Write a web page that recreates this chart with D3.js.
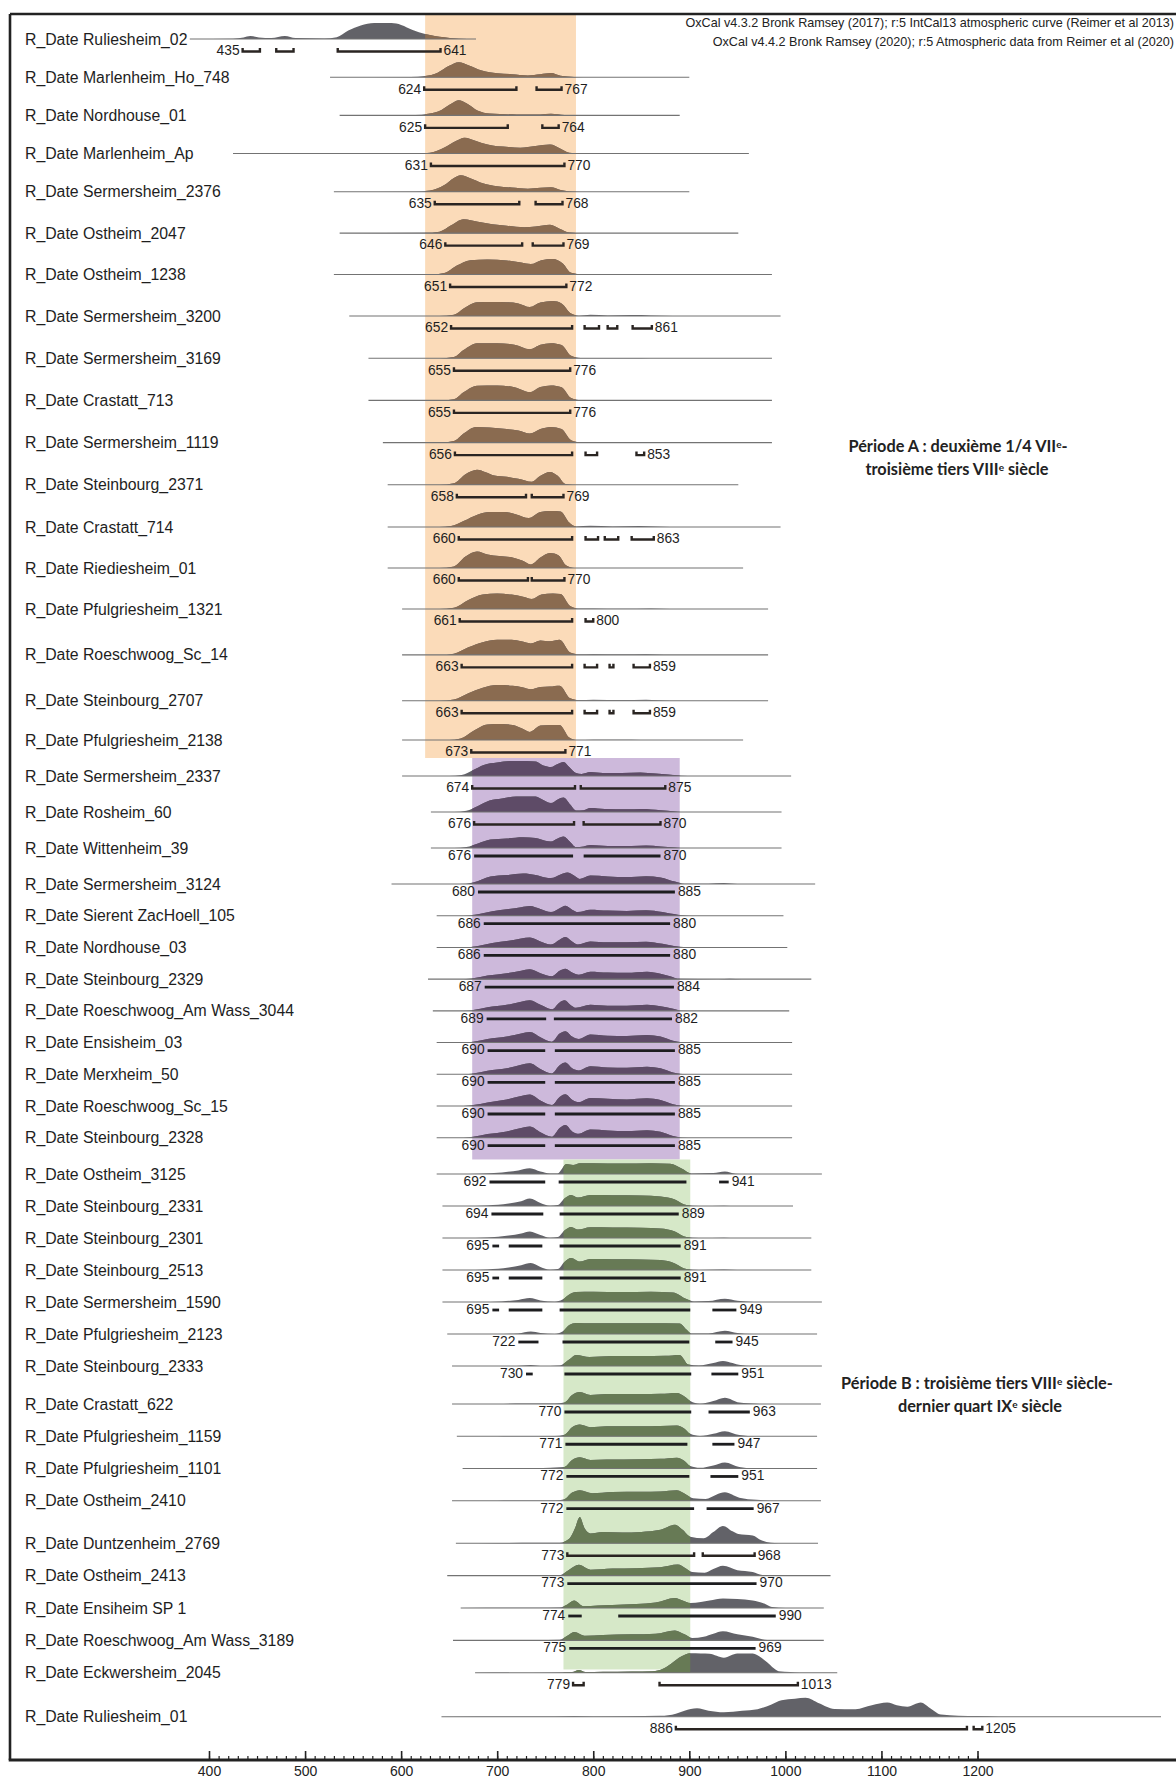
<!DOCTYPE html>
<html><head><meta charset="utf-8">
<script src="https://cdn.jsdelivr.net/npm/d3@7"></script>
<style>body{margin:0;background:#fff}</style>
</head><body>
<svg id="c" width="1176" height="1779"></svg>
<script>
// ---------------- DATA ----------------
const names = ["R_Date Ruliesheim_02","R_Date Marlenheim_Ho_748","R_Date Nordhouse_01","R_Date Marlenheim_Ap","R_Date Sermersheim_2376","R_Date Ostheim_2047","R_Date Ostheim_1238","R_Date Sermersheim_3200","R_Date Sermersheim_3169","R_Date Crastatt_713","R_Date Sermersheim_1119","R_Date Steinbourg_2371","R_Date Crastatt_714","R_Date Riediesheim_01","R_Date Pfulgriesheim_1321","R_Date Roeschwoog_Sc_14","R_Date Steinbourg_2707","R_Date Pfulgriesheim_2138","R_Date Sermersheim_2337","R_Date Rosheim_60","R_Date Wittenheim_39","R_Date Sermersheim_3124","R_Date Sierent ZacHoell_105","R_Date Nordhouse_03","R_Date Steinbourg_2329","R_Date Roeschwoog_Am Wass_3044","R_Date Ensisheim_03","R_Date Merxheim_50","R_Date Roeschwoog_Sc_15","R_Date Steinbourg_2328","R_Date Ostheim_3125","R_Date Steinbourg_2331","R_Date Steinbourg_2301","R_Date Steinbourg_2513","R_Date Sermersheim_1590","R_Date Pfulgriesheim_2123","R_Date Steinbourg_2333","R_Date Crastatt_622","R_Date Pfulgriesheim_1159","R_Date Pfulgriesheim_1101","R_Date Ostheim_2410","R_Date Duntzenheim_2769","R_Date Ostheim_2413","R_Date Ensiheim SP 1","R_Date Roeschwoog_Am Wass_3189","R_Date Eckwersheim_2045","R_Date Ruliesheim_01"];

// OxCal version used for each date (4.3 = v4.3.2 / IntCal13, 4.4 = v4.4.2 / IntCal20)
const oxcalVersion = ["4.3","4.3","4.3","4.3","4.3","4.3","4.3","4.3","4.3","4.3","4.3","4.3","4.3","4.3","4.3","4.3","4.3","4.3","4.3","4.3","4.4","4.4","4.4","4.4","4.4","4.4","4.4","4.4","4.4","4.4","4.4","4.4","4.4","4.4","4.4","4.4","4.4","4.4","4.4","4.4","4.4","4.3","4.4","4.4","4.4","4.3","4.3"];

// period band overlapping each row
const rowBand = ["A","A","A","A","A","A","A","A","A","A","A","A","A","A","A","A","A","A","B1","B1","B1","B1","B1","B1","B1","B1","B1","B1","B1","B1","B2","B2","B2","B2","B2","B2","B2","B2","B2","B2","B2","B2","B2","B2","B2","B2",null];

// period bands (calendar years AD)
const bandYears = {A:[625,782], B1:[674,890], B2:[769,901]};

// posterior densities [year, relative probability]
const densities = [
[[380,0],[425,0.01],[436,0.05],[443,0.1],[452,0.05],[465,0.03],[479,0.1],[490,0.03],[520,0.02],[533,0.06],[545,0.28],[558,0.45],[572,0.53],[590,0.53],[600,0.47],[612,0.3],[625,0.17],[645,0.06],[660,0.01],[678,0]],
[[526,0],[610,0.01],[625,0.04],[638,0.15],[650,0.38],[660,0.5],[670,0.4],[684,0.22],[700,0.13],[715,0.1],[732,0.06],[745,0.1],[756,0.14],[766,0.05],[780,0.01],[800,0],[900,0]],
[[536,0],[615,0.01],[628,0.05],[642,0.18],[653,0.4],[660,0.5],[668,0.4],[680,0.15],[692,0.06],[720,0.03],[745,0.03],[756,0.05],[770,0.01],[790,0],[890,0]],
[[425,0],[610,0],[630,0.03],[645,0.2],[657,0.42],[666,0.53],[678,0.42],[690,0.3],[700,0.24],[712,0.22],[724,0.19],[740,0.25],[755,0.3],[765,0.18],[775,0.03],[790,0],[962,0]],
[[530,0],[615,0.01],[630,0.04],[645,0.22],[655,0.46],[662,0.55],[672,0.45],[685,0.28],[700,0.18],[715,0.14],[732,0.1],[745,0.13],[756,0.15],[766,0.06],[778,0.01],[795,0],[900,0]],
[[536,0],[625,0.01],[640,0.05],[652,0.26],[665,0.46],[680,0.38],[695,0.3],[710,0.25],[728,0.2],[740,0.22],[755,0.28],[765,0.15],[775,0.02],[790,0],[951,0]],
[[530,0],[630,0],[645,0.05],[658,0.3],[672,0.48],[690,0.5],[710,0.47],[725,0.4],[735,0.35],[746,0.48],[758,0.52],[768,0.38],[777,0.06],[790,0.01],[830,0.02],[870,0.01],[900,0],[986,0]],
[[546,0],[640,0],[655,0.04],[665,0.25],[679,0.46],[695,0.47],[710,0.46],[722,0.42],[734,0.3],[745,0.45],[758,0.5],[767,0.42],[777,0.08],[785,0.01],[797,0.04],[815,0.02],[840,0.03],[860,0.02],[883,0],[995,0]],
[[566,0],[640,0],[655,0.04],[665,0.27],[679,0.5],[700,0.5],[718,0.45],[734,0.3],[745,0.45],[756,0.5],[767,0.44],[777,0.08],[787,0.01],[820,0.01],[850,0.01],[870,0],[986,0]],
[[566,0],[640,0],[655,0.04],[665,0.27],[679,0.49],[700,0.5],[718,0.44],[734,0.28],[745,0.45],[756,0.5],[767,0.44],[777,0.08],[787,0.01],[820,0.01],[850,0.01],[870,0],[986,0]],
[[581,0],[640,0],[655,0.05],[665,0.3],[678,0.52],[692,0.5],[710,0.45],[722,0.4],[734,0.3],[745,0.45],[756,0.52],[767,0.45],[777,0.08],[787,0.01],[820,0.01],[860,0.01],[880,0],[986,0]],
[[586,0],[640,0],[655,0.05],[667,0.35],[679,0.5],[688,0.42],[697,0.31],[710,0.27],[722,0.2],[736,0.1],[745,0.3],[755,0.43],[763,0.3],[771,0.03],[785,0],[951,0]],
[[586,0],[640,0],[652,0.03],[665,0.2],[680,0.42],[692,0.5],[708,0.5],[720,0.42],[733,0.3],[745,0.5],[755,0.53],[766,0.52],[775,0.15],[782,0.02],[797,0.04],[820,0.02],[848,0.03],[880,0],[995,0]],
[[586,0],[640,0],[655,0.05],[667,0.38],[679,0.55],[690,0.45],[702,0.4],[715,0.36],[726,0.25],[735,0.12],[745,0.35],[755,0.5],[764,0.42],[772,0.08],[780,0],[956,0]],
[[601,0],[640,0],[655,0.04],[670,0.3],[685,0.48],[700,0.52],[715,0.48],[728,0.4],[736,0.33],[746,0.48],[758,0.52],[766,0.5],[776,0.1],[784,0.02],[800,0.02],[830,0.01],[860,0.02],[880,0],[982,0]],
[[601,0],[640,0],[655,0.04],[670,0.25],[685,0.42],[700,0.5],[715,0.5],[725,0.45],[735,0.38],[745,0.48],[755,0.45],[765,0.5],[776,0.08],[785,0.02],[800,0.03],[830,0.02],[855,0.03],[880,0],[982,0]],
[[601,0],[640,0],[655,0.04],[670,0.25],[685,0.43],[700,0.52],[716,0.5],[726,0.45],[735,0.38],[745,0.46],[755,0.47],[765,0.5],[776,0.08],[785,0.02],[800,0.03],[830,0.02],[855,0.03],[880,0],[982,0]],
[[601,0],[650,0],[662,0.05],[675,0.3],[690,0.52],[705,0.53],[716,0.5],[726,0.38],[734,0.27],[745,0.48],[756,0.5],[765,0.5],[775,0.08],[782,0],[800,0.01],[840,0.01],[860,0],[956,0]],
[[601,0],[650,0],[663,0.03],[675,0.2],[686,0.37],[700,0.45],[715,0.5],[730,0.5],[740,0.48],[748,0.35],[756,0.3],[763,0.4],[769,0.47],[775,0.3],[782,0.1],[788,0.07],[797,0.13],[810,0.1],[830,0.1],[849,0.12],[865,0.08],[878,0.05],[892,0.01],[905,0],[1006,0]],
[[631,0],[655,0],[668,0.04],[680,0.2],[692,0.38],[705,0.45],[720,0.52],[740,0.52],[748,0.4],[756,0.3],[763,0.42],[769,0.48],[776,0.25],[782,0.05],[790,0.06],[797,0.13],[812,0.1],[835,0.09],[850,0.1],[870,0.06],[885,0.02],[895,0],[996,0]],
[[631,0],[655,0],[668,0.03],[680,0.15],[693,0.28],[710,0.32],[727,0.36],[740,0.33],[750,0.24],[756,0.22],[763,0.32],[769,0.38],[776,0.2],[782,0.03],[790,0.05],[797,0.1],[815,0.07],[840,0.07],[855,0.08],[870,0.05],[885,0.02],[895,0],[996,0]],
[[590,0],[660,0],[675,0.05],[693,0.25],[710,0.3],[727,0.35],[740,0.3],[750,0.22],[756,0.2],[766,0.32],[773,0.38],[780,0.28],[786,0.17],[797,0.28],[815,0.25],[835,0.23],[855,0.26],[870,0.22],[885,0.08],[895,0.01],[920,0.01],[936,0.03],[950,0],[1031,0]],
[[637,0],[665,0],[680,0.05],[695,0.15],[712,0.22],[725,0.28],[734,0.32],[745,0.22],[756,0.12],[765,0.25],[771,0.33],[778,0.2],[784,0.12],[797,0.2],[815,0.17],[835,0.16],[855,0.18],[872,0.12],[888,0.03],[900,0],[998,0]],
[[637,0],[665,0],[680,0.05],[695,0.15],[712,0.22],[725,0.3],[734,0.33],[745,0.2],[756,0.1],[765,0.26],[771,0.35],[778,0.2],[784,0.1],[797,0.2],[815,0.17],[835,0.17],[855,0.19],[872,0.12],[888,0.03],[900,0],[1002,0]],
[[628,0],[665,0],[675,0.03],[690,0.12],[710,0.2],[725,0.28],[734,0.33],[745,0.2],[757,0.1],[765,0.28],[771,0.35],[778,0.22],[785,0.15],[797,0.25],[815,0.22],[835,0.21],[856,0.25],[870,0.18],[880,0.1],[890,0.01],[930,0],[942,0.01],[955,0],[1027,0]],
[[633,0],[665,0],[675,0.03],[690,0.12],[710,0.2],[725,0.3],[734,0.35],[745,0.2],[757,0.05],[765,0.28],[770,0.35],[777,0.18],[782,0.1],[797,0.2],[815,0.17],[835,0.17],[856,0.2],[870,0.15],[882,0.08],[892,0.01],[905,0],[1004,0]],
[[637,0],[665,0],[675,0.03],[690,0.12],[710,0.2],[725,0.3],[734,0.35],[745,0.18],[757,0.03],[765,0.3],[771,0.38],[778,0.2],[785,0.12],[797,0.27],[815,0.23],[835,0.22],[856,0.25],[870,0.2],[883,0.06],[893,0.01],[905,0],[1007,0]],
[[637,0],[665,0],[675,0.03],[690,0.12],[710,0.2],[725,0.32],[734,0.37],[745,0.18],[757,0.03],[765,0.3],[771,0.39],[778,0.2],[785,0.13],[797,0.27],[815,0.23],[835,0.22],[856,0.25],[870,0.2],[883,0.06],[893,0.01],[905,0],[1007,0]],
[[637,0],[665,0],[675,0.03],[690,0.12],[710,0.22],[725,0.33],[734,0.38],[745,0.18],[757,0.03],[765,0.3],[771,0.39],[778,0.21],[785,0.13],[797,0.27],[815,0.24],[835,0.22],[856,0.26],[870,0.2],[883,0.06],[893,0.01],[905,0],[1007,0]],
[[637,0],[665,0],[675,0.03],[690,0.12],[710,0.21],[725,0.32],[734,0.37],[745,0.18],[757,0.03],[765,0.32],[771,0.42],[778,0.21],[785,0.13],[797,0.27],[815,0.24],[835,0.22],[856,0.25],[870,0.2],[883,0.06],[893,0.01],[905,0],[1007,0]],
[[637,0],[660,0],[680,0.01],[705,0.05],[722,0.12],[734,0.19],[745,0.08],[755,0.02],[763,0.02],[772,0.33],[779,0.3],[786,0.36],[800,0.36],[830,0.35],[860,0.36],[880,0.34],[892,0.18],[902,0.02],[925,0.03],[937,0.08],[948,0.01],[960,0],[1038,0]],
[[643,0],[665,0],[690,0.02],[712,0.08],[725,0.16],[734,0.25],[745,0.1],[755,0.01],[763,0.03],[770,0.25],[777,0.37],[784,0.28],[797,0.37],[820,0.36],[850,0.35],[870,0.32],[885,0.22],[897,0.03],[910,0],[936,0.01],[950,0],[1008,0]],
[[643,0],[665,0],[690,0.02],[712,0.08],[725,0.15],[734,0.22],[745,0.1],[755,0.01],[763,0.03],[770,0.25],[777,0.37],[784,0.28],[797,0.36],[820,0.35],[850,0.34],[870,0.32],[885,0.22],[897,0.03],[910,0],[936,0.01],[950,0],[1027,0]],
[[643,0],[665,0],[690,0.02],[712,0.08],[725,0.16],[735,0.23],[745,0.1],[755,0.01],[763,0.03],[770,0.27],[777,0.4],[786,0.28],[797,0.37],[820,0.36],[850,0.35],[870,0.33],[885,0.22],[897,0.03],[910,0],[936,0.02],[950,0],[1027,0]],
[[643,0],[680,0],[705,0.02],[722,0.07],[734,0.13],[745,0.05],[760,0.01],[768,0.08],[775,0.25],[782,0.33],[800,0.34],[830,0.33],[860,0.34],[883,0.32],[897,0.1],[905,0.02],[920,0.03],[937,0.11],[950,0.04],[967,0],[1038,0]],
[[648,0],[700,0],[722,0.02],[735,0.08],[745,0.03],[760,0],[768,0.08],[775,0.3],[782,0.37],[800,0.36],[830,0.36],[860,0.36],[890,0.35],[897,0.15],[902,0.02],[920,0.02],[937,0.11],[950,0.03],[965,0],[1033,0]],
[[653,0],[720,0],[735,0.03],[745,0],[765,0.02],[775,0.22],[782,0.37],[796,0.3],[820,0.33],[850,0.33],[875,0.34],[890,0.37],[899,0.05],[910,0.02],[925,0.1],[935,0.17],[945,0.1],[953,0.03],[965,0],[1038,0]],
[[653,0],[700,0],[727,0.02],[760,0.02],[770,0.05],[778,0.3],[786,0.4],[797,0.3],[814,0.33],[850,0.33],[870,0.34],[887,0.37],[895,0.25],[901,0.1],[911,0.01],[925,0.1],[937,0.21],[952,0.05],[970,0.01],[985,0],[1037,0]],
[[658,0],[700,0],[727,0.01],[760,0.01],[770,0.05],[778,0.3],[786,0.39],[797,0.3],[814,0.33],[850,0.33],[870,0.34],[887,0.36],[895,0.25],[901,0.08],[911,0.01],[925,0.08],[937,0.17],[952,0.04],[970,0],[1033,0]],
[[664,0],[700,0],[740,0.01],[770,0.05],[778,0.28],[786,0.37],[797,0.28],[814,0.3],[850,0.31],[870,0.32],[887,0.36],[895,0.25],[901,0.08],[911,0.02],[925,0.1],[937,0.2],[952,0.05],[970,0],[1033,0]],
[[653,0],[700,0],[727,0.01],[760,0.01],[770,0.05],[778,0.27],[786,0.35],[799,0.25],[820,0.29],[850,0.3],[870,0.31],[887,0.35],[897,0.2],[904,0.08],[917,0.06],[928,0.2],[937,0.28],[952,0.1],[970,0.03],[985,0],[1037,0]],
[[657,0],[700,0.01],[740,0.02],[765,0.02],[775,0.15],[781,0.5],[786,0.88],[791,0.5],[797,0.33],[810,0.38],[830,0.36],[850,0.38],[870,0.45],[885,0.62],[893,0.45],[901,0.22],[915,0.17],[925,0.38],[935,0.58],[945,0.4],[951,0.31],[966,0.26],[975,0.1],[985,0.02],[1000,0],[1034,0]],
[[648,0],[740,0.01],[765,0.02],[775,0.2],[785,0.36],[797,0.2],[820,0.24],[845,0.25],[870,0.28],[888,0.37],[896,0.25],[903,0.12],[916,0.1],[925,0.22],[935,0.33],[950,0.18],[966,0.12],[976,0.02],[990,0],[1047,0]],
[[662,0],[740,0.01],[765,0.02],[773,0.12],[780,0.25],[790,0.06],[805,0.08],[820,0.1],[845,0.13],[865,0.18],[885,0.33],[893,0.25],[901,0.17],[912,0.2],[921,0.25],[935,0.32],[950,0.3],[966,0.25],[978,0.15],[986,0.03],[1000,0],[1040,0]],
[[654,0],[740,0.01],[765,0.02],[773,0.15],[780,0.28],[792,0.15],[810,0.18],[840,0.2],[865,0.22],[885,0.33],[895,0.2],[903,0.08],[915,0.12],[925,0.22],[935,0.3],[950,0.2],[966,0.12],[981,0.01],[995,0],[1040,0]],
[[677,0],[760,0.01],[778,0.02],[785,0.09],[792,0.02],[810,0.03],[840,0.04],[862,0.05],[872,0.12],[881,0.3],[892,0.55],[901,0.65],[912,0.64],[921,0.63],[936,0.5],[950,0.64],[966,0.64],[975,0.5],[981,0.35],[988,0.15],[993,0.05],[1005,0.02],[1015,0],[1054,0]],
[[642,0],[760,0.01],[780,0.02],[800,0.01],[870,0.03],[886,0.1],[895,0.2],[908,0.28],[920,0.2],[936,0.15],[955,0.2],[971,0.25],[985,0.4],[996,0.55],[1010,0.6],[1021,0.63],[1035,0.45],[1051,0.26],[1073,0.25],[1090,0.38],[1106,0.47],[1116,0.38],[1127,0.33],[1141,0.47],[1150,0.3],[1162,0.07],[1180,0.03],[1200,0.02],[1222,0],[1391,0]]
];

// 95.4% highest posterior density ranges [from, to]
const ranges = [
[[435,453],[470,488],[534,641]],
[[624,720],[741,767]],
[[625,711],[747,764]],
[[631,770]],
[[635,723],[740,768]],
[[646,726],[737,769]],
[[651,772]],
[[652,778],[791,806],[815,825],[841,861]],
[[655,776]],
[[655,776]],
[[656,778],[792,804],[845,853]],
[[658,730],[736,769]],
[[660,778],[792,805],[812,826],[840,863]],
[[660,732],[736,770]],
[[661,778],[792,800]],
[[663,778],[791,804],[817,821],[842,859]],
[[663,778],[791,804],[817,821],[842,859]],
[[673,771]],
[[674,781],[787,875]],
[[676,780],[790,870]],
[[676,779],[790,870]],
[[680,885]],
[[686,880]],
[[686,880]],
[[687,884]],
[[689,751],[759,882]],
[[690,750],[760,885]],
[[690,750],[760,885]],
[[690,750],[760,885]],
[[690,750],[760,885]],
[[692,750],[764,897],[931,941]],
[[694,748],[765,889]],
[[695,702],[712,747],[765,891]],
[[695,702],[712,747],[765,891]],
[[695,702],[712,747],[765,901],[924,949]],
[[722,743],[768,900],[927,945]],
[[730,737],[770,902],[923,951]],
[[770,902],[920,963]],
[[771,898],[924,947]],
[[772,900],[922,951]],
[[772,905],[918,967]],
[[773,905],[914,968]],
[[773,970]],
[[774,788],[826,990]],
[[775,969]],
[[779,790],[869,1013]],
[[886,1189],[1196,1205]]
];

const xTickMajor = [400,500,600,700,800,900,1000,1100,1200];
const headerLines = ["OxCal v4.3.2 Bronk Ramsey (2017); r:5 IntCal13 atmospheric curve (Reimer et al 2013)",
                     "OxCal v4.4.2 Bronk Ramsey (2020); r:5 Atmospheric data from Reimer et al (2020)"];

// ---------------- LAYOUT ----------------
const W = 1176, H = 1779;
const frameL = 10, frameT = 14, axisY = 1760;
const svg = d3.select("#c");
const FONT = "'Liberation Sans', Arial, sans-serif";

const x = d3.scaleLinear().domain([400,1200]).range([209,977.5]);
// row index -> baseline (rows were stacked from several OxCal plots with uneven spacing)
const yRow = d3.scaleLinear()
  .domain([0,4,7,12,14,16,17,18,21,29,30,36,37,40,41,45,46])
  .range([39,191.7,316,527,609,700.7,740,776,884,1137.7,1174,1366,1404,1500.7,1543.3,1672.7,1716.7]);
const hScale = d3.scaleLinear().domain([0,1]).range([0,30]);

const bandStyle = {
  A:  {bg:"#fbdbb9", fill:"#8a6b50", top: frameT, bottom: yRow(17.5)},
  B1: {bg:"#cdb9db", fill:"#5e4b67", top: yRow(17.5), bottom: yRow(29.6)},
  B2: {bg:"#d6e8c8", fill:"#677a55", top: yRow(29.6), bottom: yRow(44.9)}
};
const greyFill = "#626268";

// bands
const defs = svg.append("defs");
Object.keys(bandYears).forEach(k => {
  const [a,b] = bandYears[k];
  svg.append("rect").attr("x", x(a)).attr("y", bandStyle[k].top)
    .attr("width", x(b)-x(a)).attr("height", bandStyle[k].bottom - bandStyle[k].top)
    .attr("fill", bandStyle[k].bg);
  defs.append("clipPath").attr("id","clip-"+k).append("rect")
    .attr("x", x(a)).attr("y", 0).attr("width", x(b)-x(a)).attr("height", H);
});

const rows = names.map((n,i)=>({name:n, i, base:yRow(i), dens:densities[i], rng:ranges[i], ver:oxcalVersion[i], band:rowBand[i]}));

const area = d3.area().curve(d3.curveMonotoneX).x(d=>x(d[0]));

const g = svg.append("g");
rows.forEach(r => {
  const ar = area.y0(r.base).y1(d=>r.base - hScale(d[1]));
  g.append("path").attr("d", ar(r.dens)).attr("fill", greyFill);
  if (r.band) {
    g.append("path").attr("d", ar(r.dens)).attr("fill", bandStyle[r.band].fill)
      .attr("clip-path", "url(#clip-"+r.band+")");
  }
  // baseline line
  const ext = d3.extent(r.dens, d=>d[0]);
  g.append("line").attr("x1", x(ext[0])).attr("x2", x(ext[1]))
    .attr("y1", r.base).attr("y2", r.base)
    .attr("stroke", "#737373").attr("stroke-width", 1.1);
  // name label
  g.append("text").attr("x", 25).attr("y", r.base).attr("dy","0.35em")
    .attr("font-family", FONT).attr("font-size", 15.8).attr("fill","#1e1e1e").text(r.name);
  // ranges
  const bracket = r.ver === "4.3";
  const by = r.base + (bracket ? 12.5 : 8);
  r.rng.forEach(([s,e]) => {
    if (bracket) {
      g.append("path").attr("d", `M${x(s)},${by-3.5}V${by}H${x(e)}V${by-3.5}`)
        .attr("fill","none").attr("stroke","#2a2522").attr("stroke-width",2.4);
    } else {
      g.append("line").attr("x1",x(s)).attr("x2",x(e)).attr("y1",by).attr("y2",by)
        .attr("stroke","#1d1d1f").attr("stroke-width",2.8);
    }
  });
  const first = r.rng[0][0], last = r.rng[r.rng.length-1][1];
  g.append("text").attr("x", x(first)-3).attr("y", by-1).attr("dy","0.35em")
    .attr("text-anchor","end").attr("font-family",FONT).attr("font-size",13.8).attr("fill","#1e1e1e").text(first);
  g.append("text").attr("x", x(last)+3).attr("y", by-1).attr("dy","0.35em")
    .attr("font-family",FONT).attr("font-size",13.8).attr("fill","#1e1e1e").text(last);
});

// header
headerLines.forEach((t,i)=>{
  svg.append("text").attr("x", 1174).attr("y", 22.5 + i*19.5).attr("dy","0.35em")
    .attr("text-anchor","end").attr("font-family",FONT).attr("font-size",12.6).attr("fill","#222").text(t);
});

// frame
svg.append("line").attr("x1",frameL).attr("x2",W).attr("y1",frameT).attr("y2",frameT)
  .attr("stroke","#222").attr("stroke-width",2.6);
svg.append("line").attr("x1",frameL).attr("x2",frameL).attr("y1",frameT).attr("y2",axisY)
  .attr("stroke","#222").attr("stroke-width",2.6);

// axis
const axG = svg.append("g").attr("transform",`translate(0,${axisY})`);
axG.call(d3.axisTop(x).tickValues(d3.range(400,1201,10)).tickSize(4).tickFormat(""))
  .call(s=>s.select(".domain").remove())
  .call(s=>s.selectAll("line").attr("stroke","#222").attr("stroke-width",1.2));
const axG2 = svg.append("g").attr("transform",`translate(0,${axisY})`);
axG2.call(d3.axisTop(x).tickValues(xTickMajor).tickSize(9).tickFormat(""))
  .call(s=>s.select(".domain").remove())
  .call(s=>s.selectAll("line").attr("stroke","#222").attr("stroke-width",1.6));
const axG3 = svg.append("g").attr("transform",`translate(0,${axisY})`);
axG3.call(d3.axisBottom(x).tickValues(xTickMajor).tickSize(0).tickPadding(6).tickFormat(d3.format("d")))
  .call(s=>s.select(".domain").remove())
  .call(s=>s.selectAll("text").attr("font-family",FONT).attr("font-size",14).attr("fill","#222"));
svg.append("line").attr("x1",frameL-1.3).attr("x2",W).attr("y1",axisY).attr("y2",axisY)
  .attr("stroke","#222").attr("stroke-width",3);

// period annotations
function periodText(cx, cy, parts){
  const t = svg.append("text").attr("x",cx).attr("y",cy).attr("dy","0.35em").attr("text-anchor","middle")
    .attr("font-family","Lato, 'Open Sans', sans-serif").attr("font-weight","bold").attr("font-size",16.3).attr("fill","#222");
  parts.forEach(p=>{
    if (p.sup) t.append("tspan").attr("font-size",10).attr("baseline-shift","45%").text(p.sup);
    else t.append("tspan").text(p.t);
  });
}
periodText(958, 446.5, [{t:"Période A : deuxième 1/4 VII"},{sup:"e"},{t:"-"}]);
periodText(957, 469, [{t:"troisième tiers VIII"},{sup:"e"},{t:" siècle"}]);
periodText(977, 1383, [{t:"Période B : troisième tiers VIII"},{sup:"e"},{t:" siècle-"}]);
periodText(980, 1406, [{t:"dernier quart IX"},{sup:"e"},{t:" siècle"}]);
</script>
</body></html>
